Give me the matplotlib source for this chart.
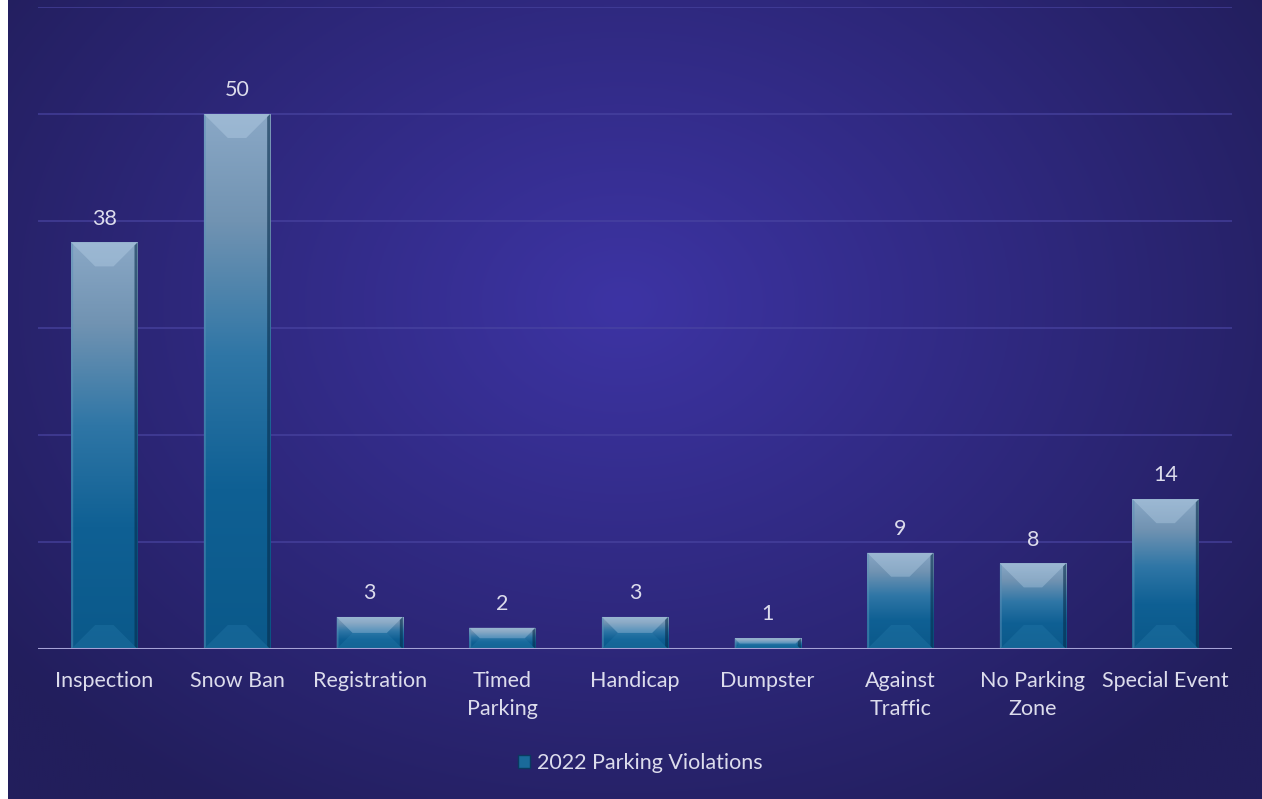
import numpy as np
import matplotlib
matplotlib.use("Agg")
import matplotlib.pyplot as plt
from matplotlib.colors import LinearSegmentedColormap
from matplotlib.patches import Polygon, Patch

categories = ["Inspection", "Snow Ban", "Registration", "Timed\nParking", "Handicap",
              "Dumpster", "Against\nTraffic", "No Parking\nZone", "Special Event"]
values = [38, 50, 3, 2, 3, 1, 9, 8, 14]
series_name = "2022 Parking Violations"

W, H = 1262, 799
fig = plt.figure(figsize=(W / 100, H / 100), dpi=100)
fig.patch.set_facecolor("white")

# radial background
bg = fig.add_axes([8 / W, 0, 1 - 8 / W, 1])
bg.set_axis_off()
nx, ny = 600, 400
xx, yy = np.meshgrid(np.linspace(0, 1, nx), np.linspace(0, 1, ny))
cx, cy = 0.49, 0.38
r = np.sqrt(((xx - cx) / 0.62) ** 2 + ((yy - cy) / 0.75) ** 2)
r = np.clip(r, 0, 1)
c_in = np.array([0x3d, 0x34, 0xa4]) / 255
c_out = np.array([0x22, 0x1e, 0x5c]) / 255
img = c_in[None, None, :] * (1 - r[..., None]) + c_out[None, None, :] * r[..., None]
bg.imshow(img, extent=[0, 1, 0, 1], aspect="auto", origin="upper", zorder=0)
bg.set_xlim(0, 1)
bg.set_ylim(0, 1)

ax_left, ax_right = 38 / W, 1232 / W
ax_bottom, ax_top = (H - 649) / H, (H - 7) / H
ax = fig.add_axes([ax_left, ax_bottom, ax_right - ax_left, ax_top - ax_bottom])
ax.patch.set_alpha(0)
n = len(categories)
ax.set_xlim(-0.5, n - 0.5)
ax.set_ylim(0, 60)
for s in ax.spines.values():
    s.set_visible(False)
ax.set_yticks(np.arange(10, 61, 10))
ax.yaxis.grid(True, color="#4a45a2", linewidth=1.2, alpha=0.75)
ax.set_axisbelow(True)
ax.tick_params(axis="y", left=False, labelleft=False)
ax.tick_params(axis="x", bottom=False, pad=12)
ax.axhline(0, color="#a6a2d6", linewidth=2.2, zorder=5)

ax.set_xticks(range(n))
ax.set_xticklabels(categories, fontsize=15.5, color="#dcdcec", family="Lato", linespacing=1.55)

cmap = LinearSegmentedColormap.from_list(
    "bar", [(0.0, "#0b598a"), (0.3, "#0f6094"), (0.55, "#2f76a6"), (0.8, "#7193b2"), (1.0, "#8aa8c6")])

bw = 0.5
px_per_x = (ax_right - ax_left) * W / n
px_per_y = (ax_top - ax_bottom) * H / 60.0
bars = ax.bar(range(n), values, width=bw, color="none", edgecolor="none", zorder=3)
grad = np.linspace(0, 1, 256).reshape(-1, 1)
for i, (b, v) in enumerate(zip(bars, values)):
    x0, x1 = b.get_x(), b.get_x() + b.get_width()
    im = ax.imshow(grad, extent=[x0, x1, 0, v], origin="lower", aspect="auto",
                   cmap=cmap, zorder=3)
    im.set_clip_path(b)
    bev_px = min(24.0, v * px_per_y / 2.0)
    dx = bev_px / px_per_x
    dy = bev_px / px_per_y
    top = Polygon([(x0, v), (x1, v), (x1 - dx, v - dy), (x0 + dx, v - dy)],
                  closed=True, facecolor="#c8e0f4", alpha=0.3, edgecolor="none", zorder=4)
    bot = Polygon([(x0, 0), (x1, 0), (x1 - dx, dy), (x0 + dx, dy)],
                  closed=True, facecolor="#2a80b0", alpha=0.3, edgecolor="none", zorder=4)
    right = Polygon([(x1, 0), (x1, v), (x1 - 3 / px_per_x, v - 3 / px_per_y), (x1 - 3 / px_per_x, 3 / px_per_y)],
                    closed=True, facecolor="#062c4c", alpha=0.6, edgecolor="none", zorder=4)
    left = Polygon([(x0, 0), (x0, v), (x0 + 2 / px_per_x, v - 2 / px_per_y), (x0 + 2 / px_per_x, 2 / px_per_y)],
                   closed=True, facecolor="#5a90b8", alpha=0.5, edgecolor="none", zorder=4)
    for p in (top, bot, right, left):
        ax.add_patch(p)
    ax.annotate(str(v), (i, v), xytext=(0, 10), textcoords="offset points",
                ha="center", va="bottom", fontsize=15.5, color="#dcdcec", family="Lato", zorder=6)

handle = Patch(facecolor="#1a6a9a", edgecolor="#0a3a60")
leg = fig.legend([handle], [series_name], loc="center", bbox_to_anchor=(640 / W, (H - 763) / H),
                 frameon=False, fontsize=15.5, handlelength=0.6, handleheight=0.6, handletextpad=0.3)
for t in leg.get_texts():
    t.set_color("#dcdcec")
    t.set_family("Lato")

fig.savefig("out.png", dpi=100)
